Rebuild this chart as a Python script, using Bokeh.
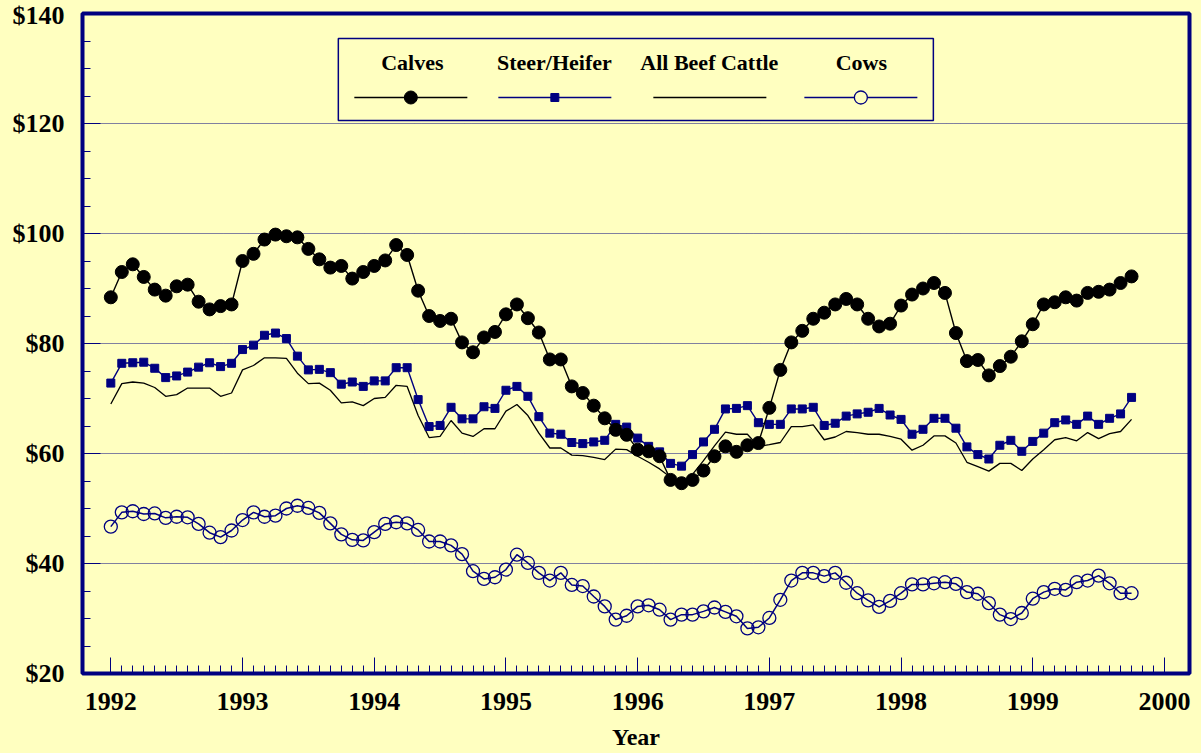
import numpy as np
from bokeh.plotting import figure
from bokeh.models import Range1d, FixedTicker, NumeralTickFormatter, BoxAnnotation, Label, ColumnDataSource
from bokeh.embed import file_html
from bokeh.resources import INLINE

# ---------------- data (monthly, Jan 1992 - Oct 1999) ----------------
start_year = 1992
year_ticks = [1992, 1993, 1994, 1995, 1996, 1997, 1998, 1999, 2000]
price_ticks = [20, 40, 60, 80, 100, 120, 140]
series_names = ["Calves", "Steer/Heifer", "All Beef Cattle", "Cows"]

calves = [88.4, 93.0, 94.4, 92.1, 89.8, 88.7, 90.4, 90.7, 87.6, 86.2, 86.8, 87.1,
          95.0, 96.3, 98.9, 99.8, 99.5, 99.3, 97.2, 95.3, 93.8, 94.1, 91.8, 93.0,
          94.1, 95.1, 97.9, 96.1, 89.6, 85.0, 84.1, 84.5, 80.2, 78.4, 81.1, 82.1,
          85.3, 87.1, 84.6, 82.0, 77.1, 77.1, 72.2, 71.0, 68.7, 66.4, 64.3, 63.4,
          60.7, 60.4, 59.5, 55.2, 54.6, 55.2, 56.9, 59.5, 61.3, 60.3, 61.5, 61.9,
          68.3, 75.2, 80.2, 82.3, 84.5, 85.6, 87.1, 88.1, 87.1, 84.5, 83.1, 83.6,
          86.9, 88.9, 90.0, 91.0, 89.2, 81.9, 76.8, 77.0, 74.2, 75.9, 77.6, 80.4,
          83.5, 87.1, 87.5, 88.4, 87.8, 89.2, 89.4, 89.8, 91.0, 92.2]

steer_heifer = [72.8, 76.4, 76.5, 76.6, 75.5, 73.8, 74.1, 74.8, 75.7, 76.5, 75.8, 76.4,
                78.9, 79.7, 81.5, 81.9, 80.9, 77.7, 75.2, 75.3, 74.7, 72.6, 73.0, 72.2,
                73.2, 73.2, 75.6, 75.6, 69.8, 64.9, 65.1, 68.4, 66.3, 66.3, 68.5, 68.2,
                71.5, 72.2, 70.4, 66.7, 63.7, 63.5, 62.0, 61.8, 62.1, 62.4, 65.3, 64.8,
                62.8, 61.3, 60.3, 58.2, 57.7, 59.8, 62.1, 64.4, 68.1, 68.2, 68.7, 65.6,
                65.3, 65.3, 68.1, 68.1, 68.4, 65.1, 65.5, 66.8, 67.2, 67.5, 68.2, 67.0,
                66.2, 63.5, 64.4, 66.4, 66.4, 64.6, 61.2, 59.8, 59.0, 61.5, 62.4, 60.4,
                62.2, 63.7, 65.6, 66.1, 65.3, 66.8, 65.3, 66.4, 67.2, 70.2]

all_beef = [69.0, 72.7, 73.0, 72.8, 72.0, 70.4, 70.7, 71.9, 71.9, 71.9, 70.4, 71.0,
            75.2, 76.0, 77.4, 77.4, 77.3, 74.6, 72.7, 72.8, 71.5, 69.2, 69.4, 68.7,
            70.0, 70.2, 72.4, 72.2, 66.9, 62.9, 63.1, 66.0, 63.7, 63.1, 64.5, 64.5,
            67.7, 68.9, 66.9, 63.7, 61.0, 61.0, 59.7, 59.6, 59.3, 58.9, 60.8, 60.7,
            59.5, 58.4, 57.2, 55.7, 54.6, 56.2, 58.7, 61.4, 63.9, 63.5, 63.5, 61.3,
            61.6, 62.0, 64.9, 64.9, 65.2, 62.5, 63.0, 64.0, 63.8, 63.5, 63.5, 63.1,
            62.6, 60.6, 61.5, 63.2, 63.2, 61.9, 58.4, 57.6, 56.8, 58.2, 58.2, 56.9,
            59.0, 60.7, 62.5, 62.9, 62.3, 63.8, 62.7, 63.6, 64.0, 66.2]

cows = [46.7, 49.3, 49.5, 49.0, 49.1, 48.3, 48.5, 48.4, 47.2, 45.6, 44.8, 46.0,
        47.9, 49.3, 48.5, 48.7, 50.0, 50.5, 50.1, 49.2, 47.3, 45.3, 44.3, 44.2,
        45.7, 47.2, 47.5, 47.3, 46.1, 44.0, 44.0, 43.3, 41.7, 38.6, 37.2, 37.5,
        38.9, 41.6, 40.1, 38.3, 36.9, 38.3, 36.1, 35.9, 34.0, 32.2, 29.8, 30.5,
        32.2, 32.4, 31.6, 29.8, 30.7, 30.7, 31.3, 32.0, 31.2, 30.4, 28.2, 28.4,
        30.1, 33.4, 36.9, 38.3, 38.3, 37.7, 38.3, 36.5, 34.6, 33.3, 32.1, 33.2,
        34.6, 36.2, 36.2, 36.4, 36.6, 36.3, 34.8, 34.5, 32.8, 30.7, 29.9, 31.0,
        33.6, 34.8, 35.4, 35.2, 36.6, 36.9, 37.8, 36.4, 34.6, 34.6]

# ---------------- styling ----------------
BG = "#FFFFC0"
NAVY = "#000080"
FONT = "Liberation Serif"

t = start_year + np.arange(len(calves)) / 12.0
src = ColumnDataSource(dict(t=t, calves=calves, steer=steer_heifer, beef=all_beef, cows=cows))

p = figure(width=1201, height=753, output_backend="svg", toolbar_location=None,
           x_range=Range1d(1991.785, 2000.19), y_range=Range1d(20, 140),
           min_border_left=82, min_border_right=12, min_border_top=13, min_border_bottom=80)
p.background_fill_color = BG
p.border_fill_color = BG
p.outline_line_color = NAVY
p.outline_line_width = 4

# ticks
p.xaxis.ticker = FixedTicker(ticks=year_ticks,
                             minor_ticks=[year_ticks[0] + k / 12.0 for k in range(12 * (len(year_ticks) - 1) + 1)])
p.yaxis.ticker = FixedTicker(ticks=price_ticks,
                             minor_ticks=list(range(price_ticks[0], price_ticks[-1] + 1, 5)))
p.yaxis.formatter = NumeralTickFormatter(format="$0")

for ax in (p.xaxis[0], p.yaxis[0]):
    ax.axis_line_color = None
    ax.major_tick_out = 0
    ax.minor_tick_out = 0
    ax.minor_tick_in = 8
    ax.major_tick_line_color = NAVY
    ax.minor_tick_line_color = NAVY
    ax.major_tick_line_width = 1
    ax.minor_tick_line_width = 1
    ax.major_label_text_font = FONT
    ax.major_label_text_font_style = "bold"
    ax.major_label_text_font_size = "26px"
    ax.major_label_text_color = "black"

p.xaxis.major_tick_in = 16
p.yaxis.major_tick_in = 18
p.yaxis.major_label_standoff = 18
p.xaxis.major_label_standoff = 19
p.xaxis.axis_label = "Year"
p.xaxis.axis_label_text_font = FONT
p.xaxis.axis_label_text_font_style = "bold"
p.xaxis.axis_label_text_font_size = "24px"
p.xaxis.axis_label_text_color = "black"
p.xaxis.axis_label_standoff = 11

p.xgrid.visible = False
p.ygrid.grid_line_color = NAVY
p.ygrid.grid_line_dash = "1 1"
p.ygrid.grid_line_width = 1

# ---------------- series ----------------
p.line("t", "cows", source=src, line_color=NAVY, line_width=1.5)
p.scatter("t", "cows", source=src, marker="circle", size=13, fill_color=None,
          line_color=NAVY, line_width=1.3)
p.line("t", "beef", source=src, line_color="black", line_width=1.3)
p.line("t", "steer", source=src, line_color=NAVY, line_width=1.4)
p.scatter("t", "steer", source=src, marker="square", size=8, fill_color=NAVY,
          line_color=NAVY, line_width=1)
p.line("t", "calves", source=src, line_color="black", line_width=1.4)
p.scatter("t", "calves", source=src, marker="circle", size=13, fill_color="black",
          line_color="black", line_width=1)

# ---------------- legend (labels above samples) ----------------
def dx(px):  # page pixel -> data x
    return 1992 + (px - 110.5) / 131.7

def dy(py):  # page pixel -> data y
    return 140 - (py - 13) / 5.5

p.add_layout(BoxAnnotation(left=dx(338), right=dx(933), top=dy(38), bottom=dy(120),
                           fill_color=BG, fill_alpha=1.0, line_color=NAVY, line_alpha=1.0,
                           line_width=1.5, level="annotation"))

label_centers = [412, 554, 709, 861]
sample_spans = [(354, 467), (498, 611), (653, 766), (804, 917)]
for name, cx in zip(series_names, label_centers):
    p.add_layout(Label(x=dx(cx), y=dy(62), text=name, text_align="center",
                       text_baseline="middle", text_font=FONT, text_font_style="bold",
                       text_font_size="22px", text_color="black", level="overlay"))

ys = dy(97)
(a0, a1), (b0, b1), (c0, c1), (d0, d1) = sample_spans
p.line([dx(a0), dx(a1)], [ys, ys], line_color="black", line_width=1.4, level="overlay")
p.scatter([dx((a0 + a1) / 2)], [ys], marker="circle", size=13, fill_color="black",
          line_color="black", level="overlay")
p.line([dx(b0), dx(b1)], [ys, ys], line_color=NAVY, line_width=1.4, level="overlay")
p.scatter([dx((b0 + b1) / 2)], [ys], marker="square", size=8, fill_color=NAVY,
          line_color=NAVY, level="overlay")
p.line([dx(c0), dx(c1)], [ys, ys], line_color="black", line_width=1.4, level="overlay")
p.line([dx(d0), dx(d1)], [ys, ys], line_color=NAVY, line_width=1.4, level="overlay")
p.scatter([dx((d0 + d1) / 2)], [ys], marker="circle", size=13, fill_color=BG,
          line_color=NAVY, line_width=1.3, level="overlay")

html = file_html(p, INLINE, title="Cattle prices")
html = html.replace("</head>", "<style>html,body{background:#FFFFC0;}</style></head>", 1)
open("out.html", "w").write(html)
